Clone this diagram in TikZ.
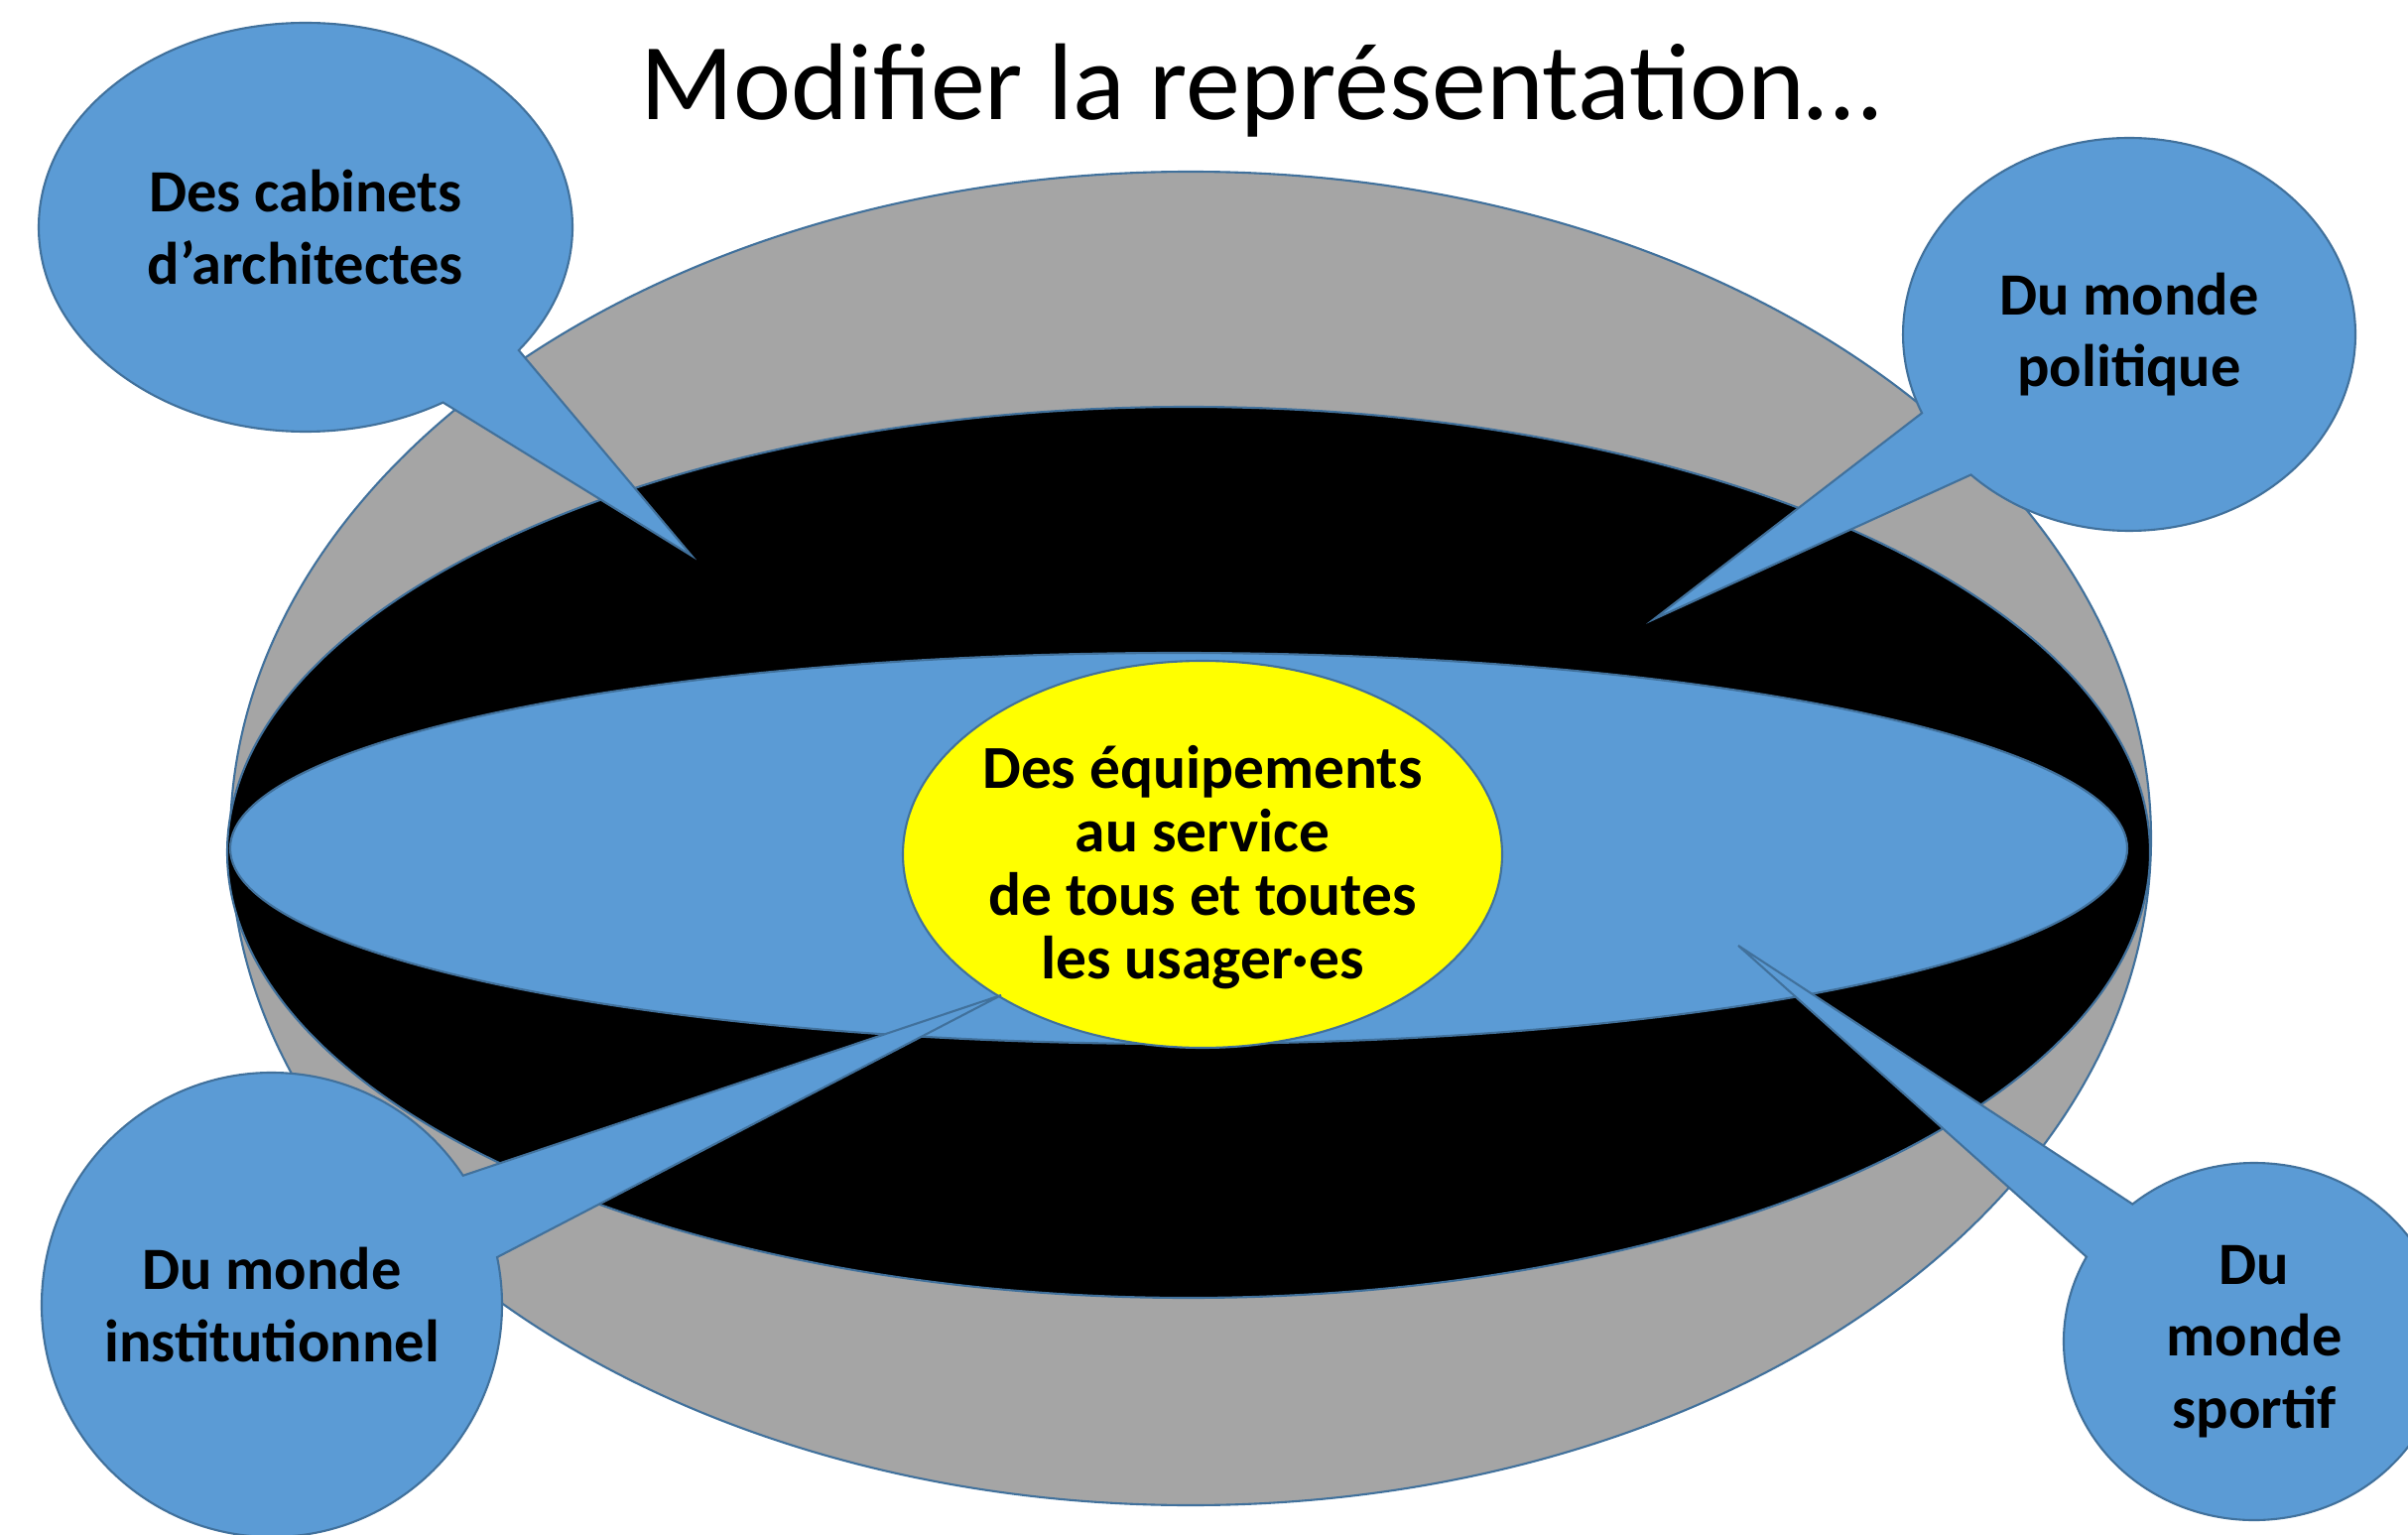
\documentclass[tikz,border=0pt]{standalone}
\usepackage{fontspec}
\setmainfont{Carlito}
\usepackage{tikz}
\usetikzlibrary{shapes.geometric,shapes.callouts}
\definecolor{bubbleblue}{HTML}{5B9BD5}
\definecolor{edgeblue}{HTML}{41719C}
\definecolor{ringgray}{HTML}{A5A5A5}
\definecolor{coreyellow}{HTML}{FFFF00}

\begin{document}
\begin{tikzpicture}[
    ring/.style={ellipse,draw=edgeblue,line width=0.6pt,inner sep=0pt},
    bubble/.style={ellipse callout,draw=edgeblue,line width=0.6pt,fill=bubbleblue,inner sep=-2mm,
        align=center,font=\bfseries\fontsize{17.2}{20.6}\selectfont,callout pointer arc=22}]
    \clip (0,0) rectangle (24.27,15.46);
    % the three rings and the core
    \node[ring,fill=ringgray,minimum width=19.36cm,minimum height=13.44cm] (outer) at (12.00,7.01) {};
    \node[ring,fill=black,minimum width=19.38cm,minimum height=8.98cm] (middle) at (11.98,6.87) {};
    \node[ring,fill=bubbleblue,minimum width=19.12cm,minimum height=3.94cm] (inner) at (11.88,6.91) {};
    \node[ring,fill=coreyellow,minimum width=6.04cm,minimum height=3.90cm] (core) at (12.12,6.85) {};
    \node[align=center,font=\bfseries\fontsize{17.5}{18.2}\selectfont] (corelabel) at (12.12,6.72)
        {Des équipements\\au service\\de tous et toutes\\les usager·es};
    \node[anchor=base,font=\fontsize{31.3}{38}\selectfont] (title) at (12.70,14.25) {Modifier la représentation…};
    % callouts
    \foreach \name/\x/\y/\bw/\bh/\tx/\ty/\txt in {
        archi/3.08/13.17/5.38/4.12/6.97/9.86/{Des cabinets\\d’architectes},
        politique/21.46/12.09/4.56/3.96/16.67/9.22/{Du monde\\politique},
        institution/2.74/2.31/4.64/4.68/10.09/5.43/{Du monde\\institutionnel},
        sport/22.72/1.94/3.84/3.60/17.52/5.93/{Du\\monde\\sportif}}{
        \coordinate (\name tip) at (\tx,\ty);
        \node[bubble,minimum width=\bw cm,minimum height=\bh cm,callout absolute pointer={(\name tip)}] (\name) at (\x,\y) {\txt};
    }
\end{tikzpicture}
\end{document}
